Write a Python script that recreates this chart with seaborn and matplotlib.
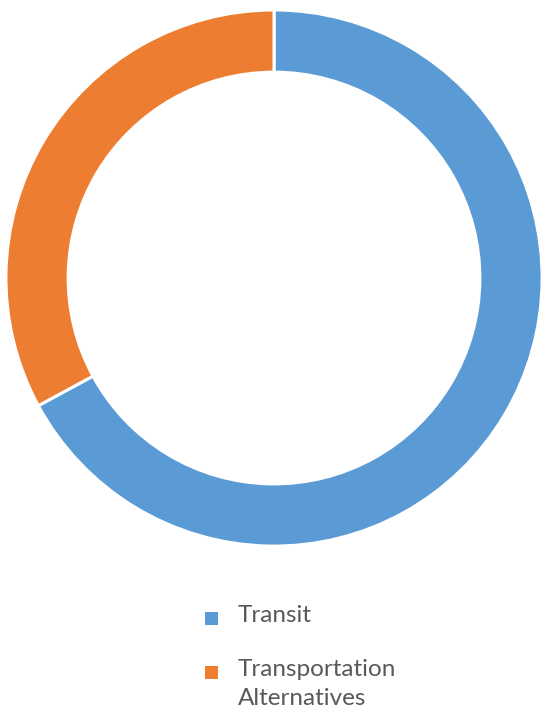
import matplotlib
matplotlib.use("Agg")
from matplotlib import pyplot as plt
from matplotlib.patches import Rectangle
import seaborn as sns

# data
categories = ["Transit", "Transportation\nAlternatives"]
shares = [67.1, 32.9]
colors = ["#5B9BD5", "#ED7D31"]

sns.set_theme(style="white")
plt.rcParams['font.family'] = ['Lato', 'DejaVu Sans']

W, H = 541, 712
fig = plt.figure(figsize=(W / 100, H / 100), dpi=100)
ax = fig.add_axes([0.011, 0.233, 0.991, 0.753])
ax.pie(shares, colors=colors, startangle=90, counterclock=False,
       wedgeprops=dict(width=0.232, edgecolor="white", linewidth=2.2))
ax.set_aspect("equal")
ax.set_xlim(-1, 1)
ax.set_ylim(-1, 1)

# legend drawn by hand: marker beside first line of each label
entry_y = [618, 672]  # marker centre, px from top
for lab, col, yc in zip(categories, colors, entry_y):
    fig.add_artist(Rectangle((205 / W, 1 - (yc + 6.5) / H), 13 / W, 13 / H,
                             transform=fig.transFigure, facecolor=col,
                             edgecolor="none"))
    fig.text(238 / W, 1 - (yc - 13) / H, lab, ha="left", va="top",
             fontsize=17.5, color="#595959", linespacing=1.45)

fig.savefig("out.png", dpi=100)
